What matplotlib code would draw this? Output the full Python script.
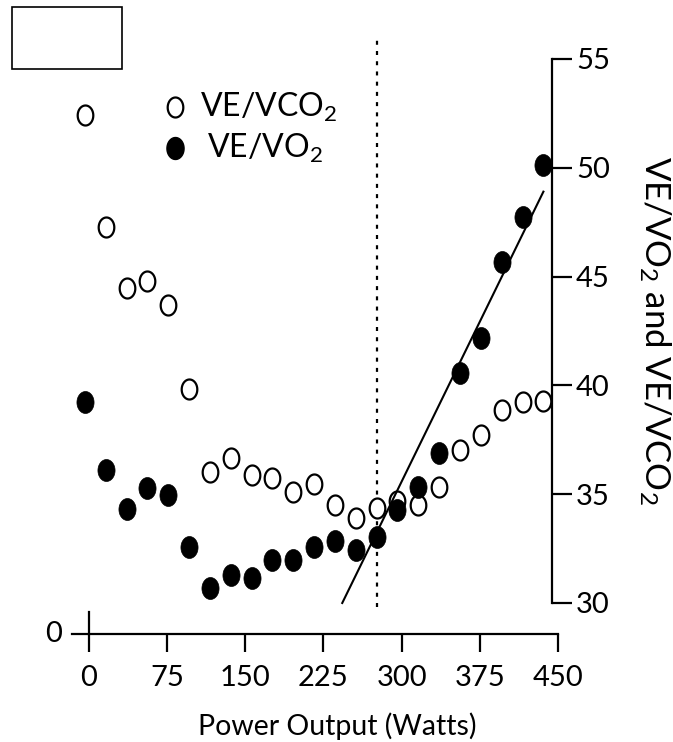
import numpy as np
import matplotlib
matplotlib.use("Agg")
import matplotlib.pyplot as plt
from matplotlib.path import Path
from matplotlib.patches import Rectangle
from matplotlib.transforms import blended_transform_factory

plt.rcParams['font.family'] = ['Lato', 'DejaVu Sans']
plt.rcParams['mathtext.fontset'] = 'custom'
plt.rcParams['mathtext.rm'] = 'Lato'
plt.rcParams['mathtext.it'] = 'Lato'

# data
power = [-4, 16, 36, 56, 76, 96, 116, 136, 156, 176, 196, 216,
         236, 256, 276, 296, 316, 336, 356, 376, 396, 416, 436]
ve_vco2 = [52.43, 47.28, 44.48, 44.80, 43.70, 39.83, 36.02, 36.66, 35.88, 35.74, 35.12, 35.45,
           34.50, 33.91, 34.37, 34.70, 34.50, 35.33, 37.03, 37.72, 38.87, 39.24, 39.28]
ve_vo2 = [39.24, 36.11, 34.32, 35.28, 34.96, 32.57, 30.69, 31.29, 31.15, 31.98, 31.98, 32.57,
          32.85, 32.44, 33.03, 34.27, 35.33, 36.89, 40.57, 42.18, 45.67, 47.74, 50.13]

fit_w = [243, 436]
fit_v = [30.0, 48.9]
threshold_w = 276

x_ticks = [0, 75, 150, 225, 300, 375, 450]
y_ticks = [30, 35, 40, 45, 50, 55]

W, H = 673, 742

# slightly tall "o" shaped marker
t = np.linspace(0, 2 * np.pi, 80)
oval = Path(np.column_stack([0.78 * np.cos(t), np.sin(t)]), closed=True)

fig = plt.figure(figsize=(W / 100, H / 100), dpi=100)
ax = fig.add_axes([72 / W, 1 - 634 / H, 486 / W, 596 / H])
ax.set_xlim(-16.3, 450)
ax.set_ylim(28.575, 55.96)

ax.plot(power, ve_vco2, linestyle='none', marker=oval, markersize=14.4,
        markerfacecolor='white', markeredgecolor='black', markeredgewidth=1.6, zorder=3)
ax.plot(power, ve_vo2, linestyle='none', marker=oval, markersize=15.8,
        markerfacecolor='black', markeredgecolor='black', markeredgewidth=0.5, zorder=4)
ax.plot(fit_w, fit_v, color='black', lw=1.5, zorder=5)
ax.vlines(threshold_w, 29.8, 56.0, colors='black', linestyles=(0, (1.8, 2.8)), lw=1.6, zorder=2)

# spines
ax.spines['top'].set_visible(False)
ax.spines['left'].set_visible(False)
ax.spines['right'].set_position(('data', 444))
ax.spines['right'].set_bounds(30, 55)
ax.spines['right'].set_linewidth(1.6)
ax.spines['bottom'].set_linewidth(1.6)

ax.set_xticks(x_ticks)
ax.set_yticks(y_ticks)
ax.yaxis.tick_right()
ax.tick_params(axis='x', direction='out', length=13, width=1.6, labelsize=21, pad=9)
ax.tick_params(axis='y', direction='out', length=14.4, width=1.6, labelsize=21, pad=3)

# zero tick crossing the axis, and the broken left axis "0"
tr = blended_transform_factory(ax.transData, ax.transAxes)
ax.plot([0, 0], [0, 22 / 596], color='black', lw=1.6, transform=tr, clip_on=False)
ax.text(-0.021, 0, '0', transform=ax.transAxes, ha='right', va='center', fontsize=21)

fig.text(337 / W, 1 - 735 / H, 'Power Output (Watts)', ha='center', va='baseline', fontsize=20.5)
fig.text(655 / W, 1 - 330 / H, 'VE/VO$_2$ and VE/VCO$_2$', rotation=270,
         ha='center', va='center', fontsize=25)

# legend drawn by hand
ax.plot([175 / W], [1 - 107 / H], transform=fig.transFigure, marker=oval, markersize=14.4,
        markerfacecolor='white', markeredgecolor='black', markeredgewidth=1.6, clip_on=False)
ax.plot([175 / W], [1 - 148 / H], transform=fig.transFigure, marker=oval, markersize=15.8,
        markerfacecolor='black', markeredgecolor='black', clip_on=False)
fig.text(200 / W, 1 - 117 / H, 'VE/VCO$_2$', va='baseline', fontsize=23)
fig.text(207 / W, 1 - 158 / H, 'VE/VO$_2$', va='baseline', fontsize=23)

fig.add_artist(Rectangle((12 / W, 1 - 69 / H), 110 / W, 62 / H, fill=False,
                         lw=1.2, edgecolor='black', transform=fig.transFigure))

fig.savefig('out.png', dpi=100)
